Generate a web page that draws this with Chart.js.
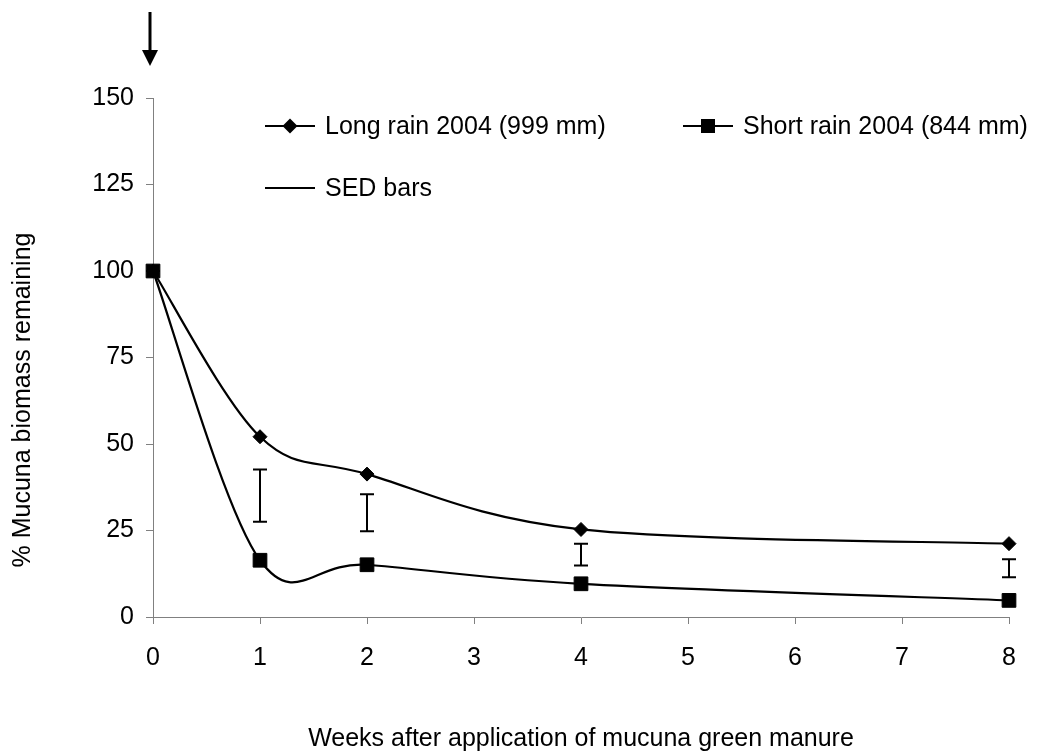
<!DOCTYPE html>
<html><head><meta charset="utf-8">
<script src="https://cdn.jsdelivr.net/npm/chart.js@4.4.1/dist/chart.umd.min.js"></script>
<style>html,body{margin:0;padding:0;background:#fff;overflow:hidden}canvas{display:block}</style>
</head><body>
<div style="width:1042px;height:755px"><canvas id="c" width="1042" height="755"></canvas></div>
<script>
const weeks = [0, 1, 2, 4, 8];
const longRain = [100, 52.1, 41.3, 25.3, 21.2];
const shortRain = [100, 16.4, 15.1, 9.6, 4.8];
const sedWeeks = [1, 2, 4, 8];
const sedLow = [27.5, 24.8, 14.9, 11.5];
const sedHigh = [42.6, 35.5, 21.2, 16.7];
const xTickValues = [0, 1, 2, 3, 4, 5, 6, 7, 8];
const yTickValues = [0, 25, 50, 75, 100, 125, 150];
const seriesNames = ['Long rain 2004 (999 mm)', 'Short rain 2004 (844 mm)', 'SED bars'];
const xTitle = 'Weeks after application of mucuna green manure';
const yTitle = '% Mucuna biomass remaining';

const FONT = '"Liberation Sans", Arial, Helvetica, sans-serif';
const AXIS = '#808080';

function toPoints(xs, ys) { return xs.map((v, i) => ({x: v, y: ys[i]})); }

function diamond(ctx, cx, cy, r) {
  ctx.beginPath();
  ctx.moveTo(cx - r, cy); ctx.lineTo(cx, cy - r); ctx.lineTo(cx + r, cy); ctx.lineTo(cx, cy + r);
  ctx.closePath(); ctx.fill();
}
function square(ctx, cx, cy, h) { ctx.fillRect(cx - h, cy - h, 2 * h, 2 * h); }

// Spreadsheet-style smoothing: uniform Catmull-Rom control points on the library's own pixel positions
const smoothing = {
  id: 'smoothing',
  beforeDatasetDraw(chart, args) {
    const meta = args.meta;
    const line = meta.dataset;
    if (!line) return;
    line.updateControlPoints(chart.chartArea, meta.iScale.axis);
    const pts = meta.data;
    const k = 1 / 6;
    for (let i = 0; i < pts.length; i++) {
      const p = pts[i];
      const prev = pts[Math.max(i - 1, 0)];
      const next = pts[Math.min(i + 1, pts.length - 1)];
      const dx = (next.x - prev.x) * k, dy = (next.y - prev.y) * k;
      p.cp1x = p.x - dx; p.cp1y = p.y - dy;
      p.cp2x = p.x + dx; p.cp2y = p.y + dy;
    }
    line._path = undefined;
  }
};

const deco = {
  id: 'deco',
  afterDatasetsDraw(chart) {
    const {ctx, scales: {x, y}} = chart;
    ctx.save();
    ctx.strokeStyle = '#000';
    ctx.fillStyle = '#000';
    ctx.lineWidth = 2;
    // SED bars
    sedWeeks.forEach((w, i) => {
      const px = x.getPixelForValue(w);
      const y1 = y.getPixelForValue(sedHigh[i]);
      const y2 = y.getPixelForValue(sedLow[i]);
      ctx.beginPath();
      ctx.moveTo(px, y1); ctx.lineTo(px, y2);
      ctx.moveTo(px - 7, y1); ctx.lineTo(px + 7, y1);
      ctx.moveTo(px - 7, y2); ctx.lineTo(px + 7, y2);
      ctx.stroke();
    });
    // arrow marking application time (week 0)
    const ax = x.getPixelForValue(0) - 3;
    ctx.lineWidth = 3;
    ctx.beginPath(); ctx.moveTo(ax, 12); ctx.lineTo(ax, 52); ctx.stroke();
    ctx.beginPath(); ctx.moveTo(ax - 8, 50); ctx.lineTo(ax + 8, 50); ctx.lineTo(ax, 66); ctx.closePath(); ctx.fill();
    // legend
    ctx.lineWidth = 2;
    ctx.font = '25px ' + FONT;
    ctx.textBaseline = 'middle';
    ctx.textAlign = 'left';
    const items = [
      {x: 265, y: 127, mark: 'diamond'},
      {x: 683, y: 127, mark: 'square'},
      {x: 265, y: 189, mark: 'none'}
    ];
    items.forEach((it, i) => {
      ctx.beginPath(); ctx.moveTo(it.x, it.y - 1); ctx.lineTo(it.x + 50, it.y - 1); ctx.stroke();
      if (it.mark === 'diamond') diamond(ctx, it.x + 25, it.y - 1, 7.5);
      if (it.mark === 'square') square(ctx, it.x + 25, it.y - 1, 7);
      ctx.fillText(seriesNames[i], it.x + 60, it.y);
    });
    // y axis title
    ctx.save();
    ctx.translate(23, 400);
    ctx.rotate(-Math.PI / 2);
    ctx.textAlign = 'center';
    ctx.fillText(yTitle, 0, 0);
    ctx.restore();
    ctx.restore();
  }
};

new Chart(document.getElementById('c'), {
  type: 'line',
  data: {
    datasets: [
      {
        label: seriesNames[0], data: toPoints(weeks, longRain),
        borderColor: '#000', backgroundColor: '#000', borderWidth: 2.2,
        pointStyle: 'rectRot', pointRadius: 7, pointBorderWidth: 1, pointBorderColor: '#000',
        tension: 0.4, fill: false, clip: false, order: 1
      },
      {
        label: seriesNames[1], data: toPoints(weeks, shortRain),
        borderColor: '#000', backgroundColor: '#000', borderWidth: 2.2,
        pointStyle: 'rect', pointRadius: 9.7, pointBorderWidth: 1, pointBorderColor: '#000',
        tension: 0.4, fill: false, clip: false, order: 0
      }
    ]
  },
  options: {
    responsive: false,
    animation: false,
    layout: {padding: {top: 98, right: 33, left: 0, bottom: 0}},
    plugins: {legend: {display: false}, tooltip: {enabled: false}, title: {display: false}},
    scales: {
      x: {
        type: 'linear', min: 0, max: 8,
        afterBuildTicks: s => { s.ticks = xTickValues.map(v => ({value: v})); },
        afterFit: s => { s.height = 138; },
        grid: {display: true, drawOnChartArea: false, drawTicks: true, tickLength: 7, color: AXIS, tickColor: AXIS},
        border: {display: true, color: AXIS, width: 1},
        ticks: {color: '#000', font: {family: FONT, size: 25}, padding: 19, maxRotation: 0, autoSkip: false},
        title: {display: true, text: xTitle, color: '#000', font: {family: FONT, size: 25, lineHeight: 1.2}, padding: {top: 0, bottom: 1}}
      },
      y: {
        type: 'linear', min: 0, max: 150,
        afterBuildTicks: s => { s.ticks = yTickValues.map(v => ({value: v})); },
        afterFit: s => { s.width = 153; },
        grid: {display: true, drawOnChartArea: false, drawTicks: true, tickLength: 7, color: AXIS, tickColor: AXIS},
        border: {display: true, color: AXIS, width: 1},
        ticks: {color: '#000', font: {family: FONT, size: 25}, padding: 12, autoSkip: false},
        title: {display: false}
      }
    }
  },
  plugins: [smoothing, deco]
});
</script>
</body></html>
